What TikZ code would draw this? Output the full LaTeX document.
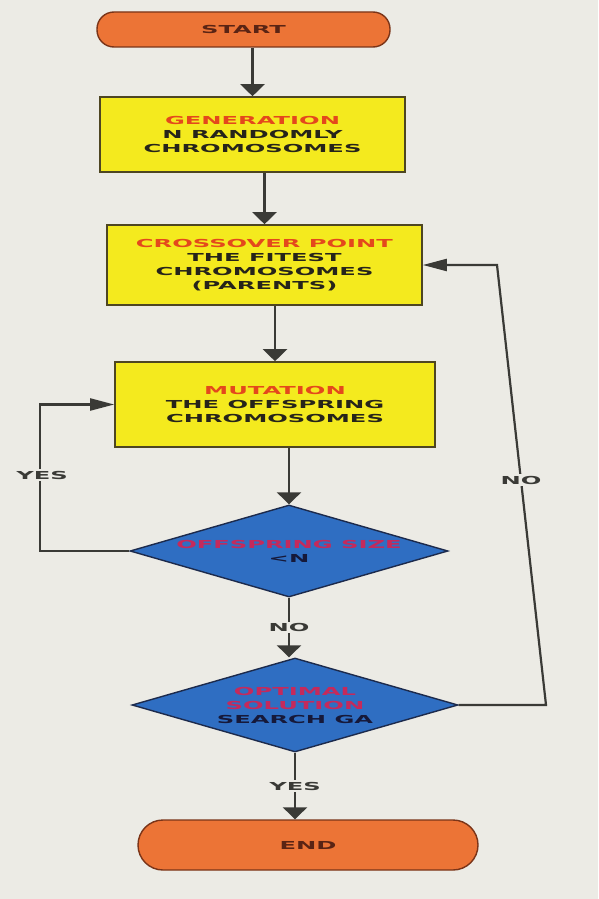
\documentclass[tikz,border=0pt]{standalone}
\usepackage{fontspec}
\setmainfont{DejaVu Sans}[FakeStretch=2.2]
\usetikzlibrary{shapes.geometric, arrows.meta}

\definecolor{paper}{HTML}{ECEBE5}
\definecolor{termfill}{HTML}{EC7436}
\definecolor{termline}{HTML}{7A3418}
\definecolor{termtext}{HTML}{5A2414}
\definecolor{boxfill}{HTML}{F4EA1E}
\definecolor{boxline}{HTML}{4E4622}
\definecolor{boxtitle}{HTML}{E4481C}
\definecolor{boxtext}{HTML}{26241A}
\definecolor{decfill}{HTML}{2F6EC2}
\definecolor{decline}{HTML}{1C2A4C}
\definecolor{dectitle}{HTML}{C42A5C}
\definecolor{dectext}{HTML}{16193A}
\definecolor{wire}{HTML}{3A3A36}

\begin{document}
\begin{tikzpicture}[
        x=1pt, y=-1pt,
        every node/.style={font=\bfseries\fontsize{11}{14}\selectfont},
        terminal/.style={rectangle, draw=termline, line width=1.4pt, fill=termfill, text=termtext, inner sep=0pt},
        process/.style={rectangle, draw=boxline, line width=1.6pt, fill=boxfill, text=boxtext, align=center, inner sep=0pt},
        decision/.style={diamond, draw=decline, line width=1.4pt, fill=decfill, text=dectext, align=center, inner sep=0pt, aspect=3.5},
        tag/.style={fill=paper, text=wire, inner sep=1.5pt},
        vline/.style={draw=wire, line width=2.6pt, -{Triangle[width=24pt, length=12pt]}},
        hline/.style={draw=wire, line width=2.2pt, -{Triangle[width=12pt, length=24pt]}}
    ]
        % Paper
        \fill[paper] (0,0) rectangle (598,899);

        % Start and end
        \node[terminal, rounded corners=17pt, minimum width=293pt, minimum height=35pt] (start) at (243.5,29.5) {START};
        \node[terminal, rounded corners=25pt, minimum width=340pt, minimum height=50pt] (end) at (308,845) {END};

        % Steps of the algorithm
        \node[process, minimum width=305pt, minimum height=75pt] (gen) at (252.5,134.5)
            {\textcolor{boxtitle}{GENERATION}\\N RANDOMLY\\CHROMOSOMES};
        \node[process, minimum width=315pt, minimum height=80pt] (cross) at (264.5,265)
            {\textcolor{boxtitle}{CROSSOVER POINT}\\THE FITEST\\CHROMOSOMES\\(PARENTS)};
        \node[process, minimum width=320pt, minimum height=85pt] (mut) at (275,404.5)
            {\textcolor{boxtitle}{MUTATION}\\THE OFFSPRING\\CHROMOSOMES};

        % Tests
        \node[decision, minimum width=318pt, minimum height=92pt] (size) at (289,551)
            {\textcolor{dectitle}{OFFSPRING SIZE}\\<N};
        \node[decision, minimum width=326pt, minimum height=94pt] (optimal) at (295,705)
            {\textcolor{dectitle}{OPTIMAL}\\\textcolor{dectitle}{SOLUTION}\\SEARCH GA};

        % Bends of the loops
        \coordinate (yesB) at (40,551);
        \coordinate (noB) at (546,705);
        \coordinate (noT) at (497,265);

        % Main flow
        \draw[vline] (gen.north |- start.south) -- (gen.north);
        \draw[vline] (cross.north |- gen.south) -- (cross.north);
        \draw[vline] (mut.north |- cross.south) -- (mut.north);
        \draw[vline] (size.north |- mut.south) -- (size.north);
        \draw[vline] (size.south) -- (size.south |- optimal.north)
            node[tag, pos=0.5] (noMid) {NO};
        \draw[vline] (optimal.south) -- (optimal.south |- end.north)
            node[tag, pos=0.5] (yesEnd) {YES};

        % Loops
        \draw[hline] (size.west) -- (yesB) -- (yesB |- mut.west) -- (mut.west);
        \node[tag] (yesLoop) at (42,475) {YES};
        \draw[hline] (optimal.east) -- (noB) -- (noT) -- (cross.east);
        \node[tag] (noLoop) at (521,480) {NO};
    \end{tikzpicture}
\end{document}
